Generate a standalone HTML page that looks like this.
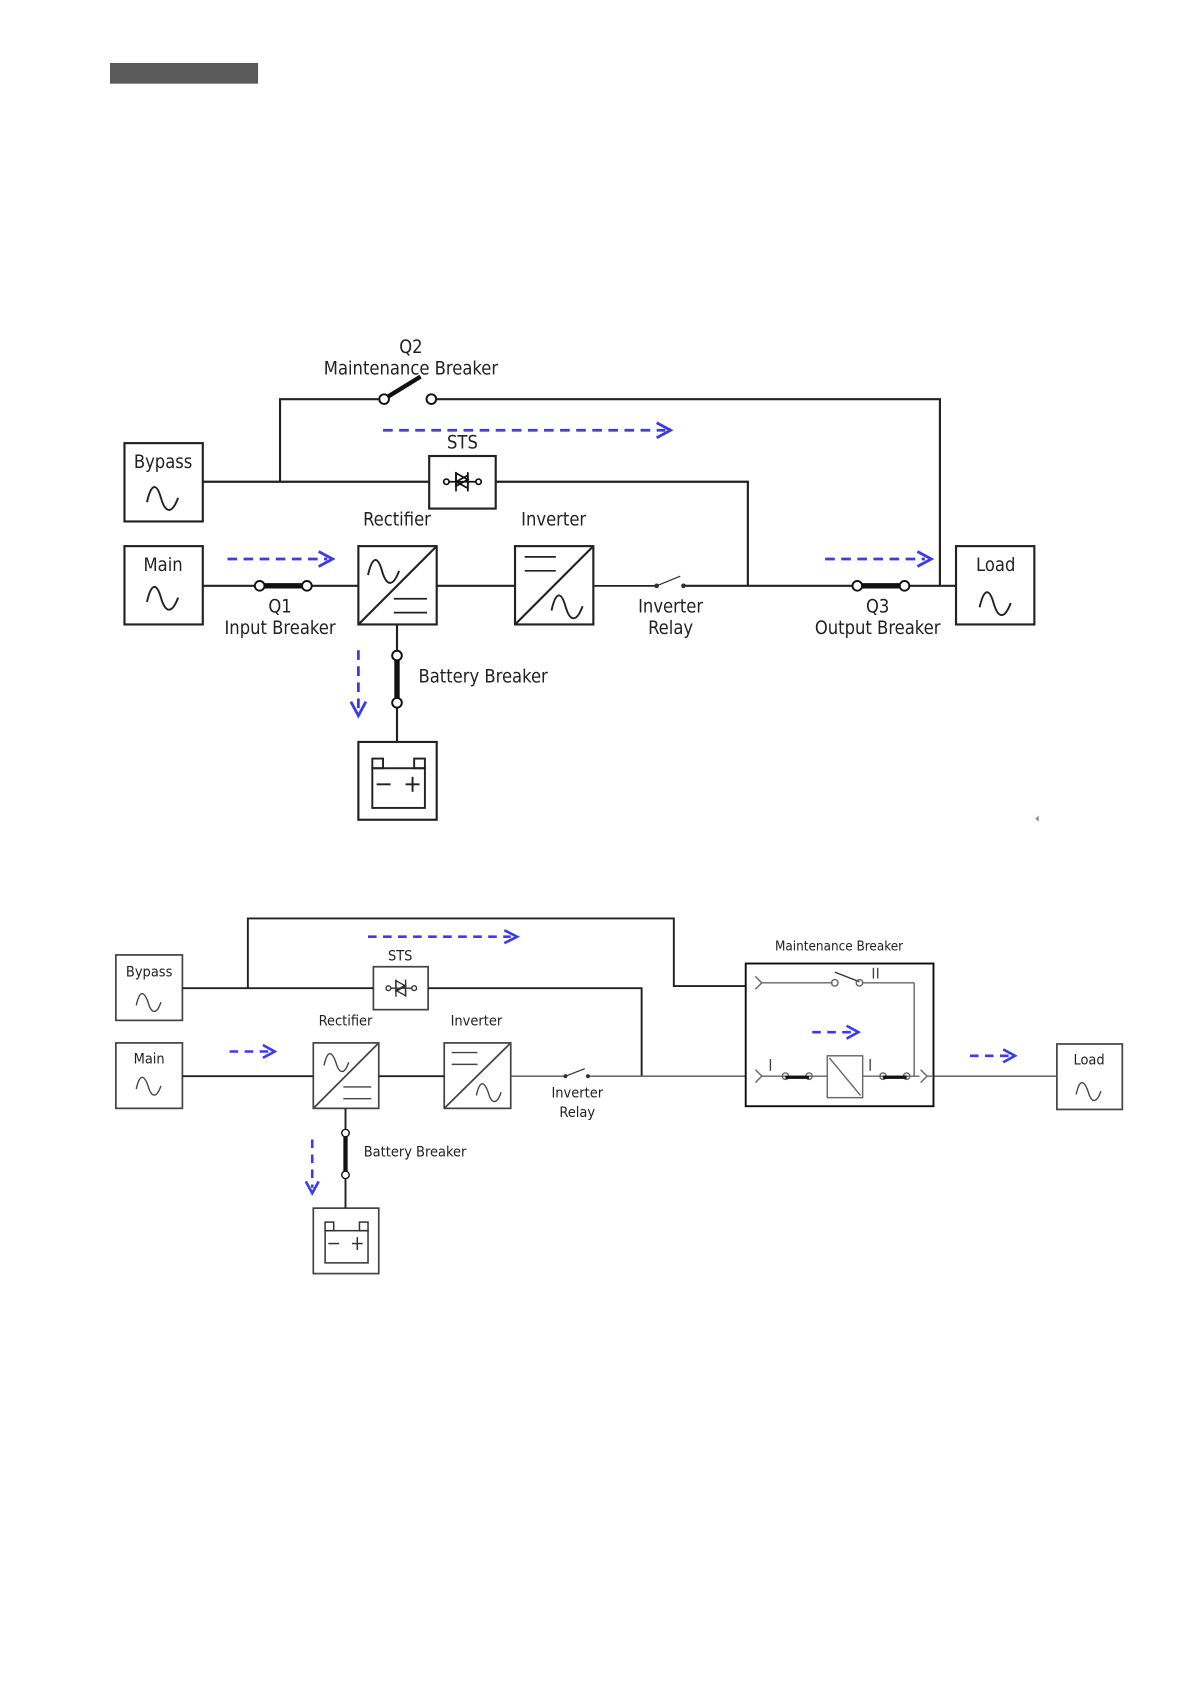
<!DOCTYPE html>
<html><head><meta charset="utf-8"><style>
html,body{margin:0;padding:0;background:#fff;}
svg{display:block;}
text{font-family:"DejaVu Sans Condensed","Liberation Sans",sans-serif;fill:#222;}
</style></head><body>
<svg width="1191" height="1684" viewBox="0 0 1110 1569.5" preserveAspectRatio="none" xmlns="http://www.w3.org/2000/svg">
<defs>
<path id="sine" d="M-15 4 C-11 -14 -6 -14 -2 0 C2 14 8 16 14 0" fill="none" stroke="#222" stroke-width="1.8"/>
<path id="sineS" d="M-12 3 C-9 -11 -5 -11 -1 0 C2 11 7 12 11 0" fill="none" stroke="#444" stroke-width="1.3"/>
</defs>
<rect x="102.5" y="58.7" width="138" height="19.3" fill="#5a5a5a"/>

<!-- TOP DIAGRAM -->
<g stroke="#222" stroke-width="2" fill="none">
<rect x="116" y="413" width="73" height="73" fill="#fff"/>
<rect x="116" y="509" width="73" height="73" fill="#fff"/>
<rect x="891" y="509" width="73" height="73" fill="#fff"/>
<rect x="400" y="425" width="62" height="49" fill="#fff"/>
<rect x="334" y="509" width="73" height="73"/>
<line x1="334" y1="582" x2="407" y2="509"/>
<rect x="480" y="509" width="73" height="73"/>
<line x1="480" y1="582" x2="553" y2="509"/>
<rect x="334" y="691.5" width="73" height="72.5"/>
<!-- bypass line -->
<polyline points="189,449 400,449"/>
<polyline points="462,449 697,449 697,546"/>
<!-- Q2 loop -->
<polyline points="261,449 261,372 355,372"/>
<polyline points="406,372 876,372 876,546"/>
<!-- main line -->
<line x1="189" y1="546" x2="238" y2="546"/>
<line x1="290" y1="546" x2="334" y2="546"/>
<line x1="407" y1="546" x2="480" y2="546"/>
<line x1="553" y1="546" x2="611" y2="546" stroke-width="1.6"/>
<line x1="638" y1="546" x2="795" y2="546"/>
<line x1="847" y1="546" x2="891" y2="546"/>
<!-- battery -->
<line x1="370" y1="582" x2="370" y2="607"/>
<line x1="370" y1="659" x2="370" y2="691.5"/>
</g>
<!-- breakers top -->
<g stroke="#111" fill="#fff" stroke-width="1.8">
<line x1="242" y1="546" x2="286" y2="546" stroke-width="5"/>
<circle cx="242" cy="546" r="4.5"/><circle cx="286" cy="546" r="4.5"/>
<line x1="799" y1="546" x2="843" y2="546" stroke-width="5"/>
<circle cx="799" cy="546" r="4.5"/><circle cx="843" cy="546" r="4.5"/>
<line x1="370" y1="611" x2="370" y2="655" stroke-width="5"/>
<circle cx="370" cy="611" r="4.5"/><circle cx="370" cy="655" r="4.5"/>
<line x1="361" y1="370" x2="392" y2="351" stroke-width="4"/>
<circle cx="358" cy="372" r="4.5"/><circle cx="402" cy="372" r="4.5"/>
</g>
<!-- relay -->
<g stroke="#333" stroke-width="1.2" fill="#333">
<circle cx="612" cy="546" r="1.6"/><circle cx="637" cy="546" r="1.6"/>
<line x1="612" y1="546" x2="634" y2="537"/>
</g>
<!-- STS symbol -->
<g stroke="#111" stroke-width="1.6" fill="none">
<circle cx="416" cy="449" r="2.5"/><circle cx="446" cy="449" r="2.5"/>
<line x1="418.5" y1="449" x2="443.5" y2="449"/>
<polygon points="425,441 436,447 425,453" /><polygon points="436,451 425,457 436,463" transform="translate(0,-8)"/>
<line x1="425" y1="440" x2="425" y2="458"/><line x1="436" y1="440" x2="436" y2="458"/>
</g>
<!-- converter symbols -->
<use href="#sine" x="358" y="532"/>
<g stroke="#222" stroke-width="1.6"><line x1="367" y1="558" x2="398" y2="558"/><line x1="367" y1="571" x2="398" y2="571"/>
<line x1="489" y1="519" x2="518" y2="519"/><line x1="489" y1="532" x2="518" y2="532"/></g>
<use href="#sine" x="529" y="565"/>
<use href="#sine" x="152" y="464"/>
<use href="#sine" x="152" y="557"/>
<use href="#sine" x="928" y="562"/>
<!-- battery symbol -->
<g stroke="#222" stroke-width="1.8" fill="none">
<rect x="347" y="716" width="49" height="37"/>
<rect x="347" y="707" width="10" height="9"/><rect x="386" y="707" width="10" height="9"/>
<line x1="351" y1="731" x2="364" y2="731"/><line x1="378" y1="731" x2="391" y2="731"/><line x1="384.5" y1="724" x2="384.5" y2="738"/>
</g>
<!-- blue arrows top -->
<g stroke="#3a3af0" stroke-width="2.6" fill="none" stroke-dasharray="9,6">
<line x1="357" y1="401" x2="620" y2="401"/>
<line x1="212" y1="521" x2="305" y2="521"/>
<line x1="769" y1="521" x2="862" y2="521"/>
<line x1="334" y1="606" x2="334" y2="662"/>
</g>
<g stroke="#3a3af0" stroke-width="2.6" fill="none">
<polyline points="612,394 625,401 612,408"/>
<polyline points="297,514 310,521 297,528"/>
<polyline points="855,514 868,521 855,528"/>
<polyline points="327,654 334,667 341,654"/>
</g>
<g font-size="17" text-anchor="middle">
<text x="152" y="436">Bypass</text>
<text x="152" y="532">Main</text>
<text x="928" y="532">Load</text>
<text x="383" y="329">Q2</text>
<text x="383" y="349">Maintenance Breaker</text>
<text x="431" y="418">STS</text>
<text x="370" y="490">Rectifier</text>
<text x="516" y="490">Inverter</text>
<text x="261" y="571">Q1</text>
<text x="261" y="591">Input Breaker</text>
<text x="625" y="571">Inverter</text>
<text x="625" y="591">Relay</text>
<text x="818" y="571">Q3</text>
<text x="818" y="591">Output Breaker</text>
<text x="390" y="636" text-anchor="start">Battery Breaker</text>
</g>
<path d="M968 760 L965 763 L968 766 Z" fill="#888"/>

<!-- BOTTOM DIAGRAM -->
<g stroke="#444" stroke-width="1.6" fill="none">
<rect x="108" y="890" width="62" height="61" fill="#fff"/>
<rect x="108" y="972" width="62" height="61" fill="#fff"/>
<rect x="985" y="973" width="61" height="61" fill="#fff"/>
<rect x="348" y="901" width="51" height="40" fill="#fff"/>
<rect x="292" y="972" width="61" height="61"/><line x1="292" y1="1033" x2="353" y2="972"/>
<rect x="414" y="972" width="62" height="61"/><line x1="414" y1="1033" x2="476" y2="972"/>
<rect x="292" y="1126" width="61" height="61"/>
</g>
<g stroke="#222" stroke-width="1.8" fill="none">
<polyline points="231,921 231,856 628,856 628,919 695,919"/>
<line x1="170" y1="921" x2="348" y2="921"/>
<polyline points="399,921 598,921 598,1003"/>
<line x1="170" y1="1003" x2="292" y2="1003"/>
<line x1="353" y1="1003" x2="414" y2="1003"/>
<line x1="476" y1="1003" x2="527" y2="1003" stroke="#555" stroke-width="1.2"/>
<line x1="549" y1="1003" x2="695" y2="1003" stroke="#555" stroke-width="1.2"/>
<line x1="870" y1="1003" x2="985" y2="1003" stroke="#555" stroke-width="1.2"/>
<line x1="322" y1="1033" x2="322" y2="1053"/>
<line x1="322" y1="1098" x2="322" y2="1126"/>
<rect x="695" y="898" width="175" height="133" stroke="#111"/>
</g>
<g stroke="#111" fill="#fff" stroke-width="1.3">
<line x1="322" y1="1056" x2="322" y2="1095" stroke-width="4"/>
<circle cx="322" cy="1056" r="3.5"/><circle cx="322" cy="1095" r="3.5"/>
</g>
<g stroke="#333" stroke-width="1.1" fill="#333">
<circle cx="527" cy="1003" r="1.4"/><circle cx="548" cy="1003" r="1.4"/>
<line x1="527" y1="1003" x2="545" y2="996"/>
</g>
<g stroke="#333" stroke-width="1.3" fill="none">
<circle cx="362" cy="921" r="2.2"/><circle cx="386" cy="921" r="2.2"/>
<line x1="364" y1="921" x2="384" y2="921"/>
<polygon points="369,914 378,919 369,924"/><polygon points="378,918 369,923 378,928"/>
<line x1="369" y1="913" x2="369" y2="929"/><line x1="378" y1="913" x2="378" y2="929"/>
</g>
<use href="#sineS" x="314" y="990"/>
<g stroke="#444" stroke-width="1.3"><line x1="320" y1="1013" x2="346" y2="1013"/><line x1="320" y1="1024" x2="346" y2="1024"/>
<line x1="421" y1="981" x2="445" y2="981"/><line x1="421" y1="992" x2="445" y2="992"/></g>
<use href="#sineS" x="456" y="1018"/>
<use href="#sineS" x="139" y="934"/>
<use href="#sineS" x="139" y="1012"/>
<use href="#sineS" x="1015" y="1017"/>
<g stroke="#333" stroke-width="1.4" fill="none">
<rect x="303" y="1147" width="40" height="30"/>
<rect x="303" y="1139" width="8" height="8"/><rect x="335" y="1139" width="8" height="8"/>
<line x1="306" y1="1159" x2="316" y2="1159"/><line x1="328" y1="1159" x2="338" y2="1159"/><line x1="333" y1="1153" x2="333" y2="1165"/>
</g>
<!-- maintenance breaker internals -->
<g stroke="#666" stroke-width="1.3" fill="none">
<polyline points="704,910 710,916 704,922"/>
<line x1="710" y1="916" x2="776" y2="916"/>
<line x1="804" y1="916" x2="852" y2="916"/><line x1="852" y1="916" x2="852" y2="1003"/>
<line x1="778" y1="906" x2="801" y2="915" stroke="#333"/>
<circle cx="778" cy="916" r="3"/><circle cx="801" cy="916" r="3"/>
<polyline points="704,997 710,1003 704,1009"/>
<line x1="710" y1="1003" x2="771" y2="1003"/>
<line x1="804" y1="1003" x2="857" y2="1003"/>
<polyline points="858,997 864,1003 858,1009"/>
<line x1="864" y1="1003" x2="870" y2="1003"/>
<rect x="771" y="984" width="33" height="39"/><line x1="773" y1="986" x2="802" y2="1021"/>
<circle cx="732" cy="1003" r="3"/><circle cx="754" cy="1003" r="3"/>
<circle cx="823" cy="1003" r="3"/><circle cx="845" cy="1003" r="3"/>
</g>
<g stroke="#111" stroke-width="3"><line x1="732" y1="1004" x2="754" y2="1004"/><line x1="823" y1="1004" x2="845" y2="1004"/></g>
<g stroke="#444" stroke-width="1.3"><line x1="718" y1="987" x2="718" y2="998"/><line x1="811" y1="987" x2="811" y2="998"/>
<line x1="814" y1="902" x2="814" y2="912"/><line x1="818" y1="902" x2="818" y2="912"/></g>
<!-- blue arrows bottom -->
<g stroke="#3a3af0" stroke-width="2.4" fill="none" stroke-dasharray="8,6">
<line x1="343" y1="873" x2="476" y2="873"/>
<line x1="214" y1="980" x2="250" y2="980"/>
<line x1="757" y1="962" x2="794" y2="962"/>
<line x1="904" y1="984" x2="940" y2="984"/>
<line x1="291" y1="1062" x2="291" y2="1107"/>
</g>
<g stroke="#3a3af0" stroke-width="2.4" fill="none">
<polyline points="470,867 482,873 470,879"/>
<polyline points="245,974 256,980 245,986"/>
<polyline points="789,956 800,962 789,968"/>
<polyline points="935,978 946,984 935,990"/>
<polyline points="285,1101 291,1112 297,1101"/>
</g>
<g font-size="13.5" text-anchor="middle">
<text x="139" y="910">Bypass</text>
<text x="139" y="991">Main</text>
<text x="1015" y="992">Load</text>
<text x="373" y="895">STS</text>
<text x="322" y="956">Rectifier</text>
<text x="444" y="956">Inverter</text>
<text x="538" y="1023">Inverter</text>
<text x="538" y="1041">Relay</text>
<text x="782" y="886" font-size="12.5">Maintenance Breaker</text>
<text x="339" y="1078" text-anchor="start">Battery Breaker</text>
</g>
</svg>
</body></html>
